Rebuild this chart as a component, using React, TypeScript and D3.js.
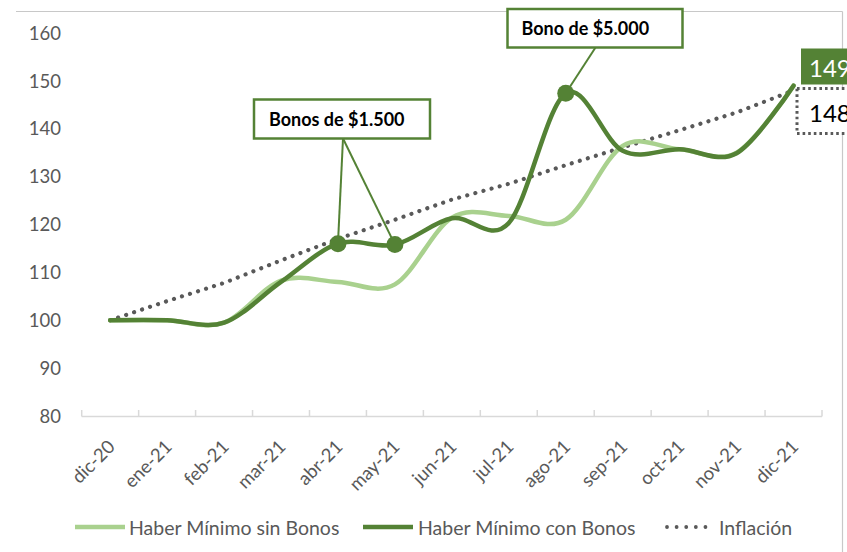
import React from "react";
import * as d3 from "d3";

const categories = ["dic-20","ene-21","feb-21","mar-21","abr-21","may-21","jun-21","jul-21","ago-21","sep-21","oct-21","nov-21","dic-21"];
const sinBonos = [100, 100, 99.5, 108.3, 108, 107.5, 121.4, 121.8, 121, 136.4, 135.7, 135, 149];
const conBonos = [100, 100, 99.5, 108, 116, 115.8, 121.3, 120.3, 147.4, 135.4, 135.7, 134.9, 149];
const inflacion = [100, 104, 107.8, 112.5, 117, 121, 125.2, 128.5, 132.4, 136.1, 139.7, 143.4, 148];
const yTicks = [80, 90, 100, 110, 120, 130, 140, 150, 160];
const seriesNames = ["Haber Mínimo sin Bonos", "Haber Mínimo con Bonos", "Inflación"];
const annotations = [
  { text: "Bonos de $1.500", idx: [4, 5] },
  { text: "Bono de $5.000", idx: [8] },
];
const endLabels = { con: "149", infl: "148" };

const W = 847, H = 552;
const DARK = "#548235", LIGHT = "#A9D18E", DOT = "#595959", TXT = "#595959";
const FONT = "Lato, 'Noto Sans', sans-serif";

export default function App() {
  const x = d3.scaleBand<string>().domain(categories).range([81.7, 822]).paddingInner(0).paddingOuter(0);
  const bw = x.bandwidth();
  const cx = (c: string) => (x(c) as number) + bw / 2;
  const y = d3.scaleLinear().domain([80, 160]).range([416, 33]);

  const line = d3.line<number>()
    .x((_, i) => cx(categories[i]))
    .y((d) => y(d))
    .curve(d3.curveCardinal.tension(0));
  const straight = d3.line<number>()
    .x((_, i) => cx(categories[i]))
    .y((d) => y(d));

  const boundaries = d3.range(categories.length + 1).map((i) => 81.7 + i * bw);

  const box1 = { x: 254, y: 99.5, w: 176, h: 39 };
  const box2 = { x: 507.5, y: 9, w: 175, h: 38.5 };

  return (
    <svg width={W} height={H} style={{ position: "absolute", left: 0, top: 0, background: "#fff" }} fontFamily={FONT}>
      {/* frame */}
      <line x1={16} x2={842.5} y1={11.5} y2={11.5} stroke="#C8C8C8" strokeWidth={1.2} />
      <line x1={842.5} x2={842.5} y1={11.5} y2={H} stroke="#C8C8C8" strokeWidth={1.2} />

      {/* y tick labels */}
      {yTicks.map((t) => (
        <text key={t} x={61} y={y(t)} dy="0.36em" textAnchor="end" fontSize={18.5} fill={TXT}>{t}</text>
      ))}

      {/* x axis */}
      <line x1={81.7} x2={822} y1={416.5} y2={416.5} stroke="#D9D9D9" strokeWidth={1.5} />
      {boundaries.map((b, i) => (
        <line key={i} x1={b} x2={b} y1={410} y2={416.5} stroke="#D9D9D9" strokeWidth={1.5} />
      ))}
      {categories.map((c) => (
        <text key={c} transform={`translate(${cx(c) + 1},${443}) rotate(-45)`} textAnchor="end" dominantBaseline="central" fontSize={18.5} fill={TXT}>{c}</text>
      ))}

      {/* series */}
      <path d={straight(inflacion) || ""} fill="none" stroke={DOT} strokeWidth={4.2} strokeLinecap="round" strokeDasharray="0.01 8.4" />
      <path d={line(sinBonos) || ""} fill="none" stroke={LIGHT} strokeWidth={4.5} strokeLinecap="round" />
      <path d={line(conBonos) || ""} fill="none" stroke={DARK} strokeWidth={4.5} strokeLinecap="round" />

      {/* leader lines */}
      {annotations[0].idx.map((i) => (
        <line key={"l1" + i} x1={box1.x + 89} y1={box1.y + box1.h} x2={cx(categories[i])} y2={y(conBonos[i])} stroke={DARK} strokeWidth={2} />
      ))}
      {annotations[1].idx.map((i) => (
        <line key={"l2" + i} x1={box2.x + 88} y1={box2.y + box2.h} x2={cx(categories[i])} y2={y(conBonos[i])} stroke={DARK} strokeWidth={2} />
      ))}

      {/* markers */}
      {[...annotations[0].idx, ...annotations[1].idx].map((i) => (
        <circle key={"m" + i} cx={cx(categories[i])} cy={y(conBonos[i])} r={8.5} fill={DARK} />
      ))}

      {/* annotation boxes */}
      <rect x={box1.x} y={box1.y} width={box1.w} height={box1.h} fill="#fff" stroke={DARK} strokeWidth={2.5} />
      <text x={box1.x + 15} y={box1.y + box1.h / 2} dominantBaseline="central" fontSize={18} fontWeight="bold" fill="#000">{annotations[0].text}</text>
      <rect x={box2.x} y={box2.y} width={box2.w} height={box2.h} fill="#fff" stroke={DARK} strokeWidth={2.5} />
      <text x={box2.x + 14} y={box2.y + box2.h / 2} dominantBaseline="central" fontSize={18} fontWeight="bold" fill="#000">{annotations[1].text}</text>

      {/* end labels */}
      <rect x={801} y={48.5} width={60} height={36} fill={DARK} />
      <text x={809} y={67} dominantBaseline="central" fontSize={24} fill="#fff">{endLabels.con}</text>
      <rect x={797} y={88.5} width={60} height={45} fill="#fff" stroke={DOT} strokeWidth={3} strokeDasharray="2.6 3" />
      <text x={809} y={112} dominantBaseline="central" fontSize={24} fill="#000">{endLabels.infl}</text>

      {/* legend */}
      <line x1={75} x2={125} y1={527} y2={527} stroke={LIGHT} strokeWidth={4.5} />
      <text x={129} y={527} dominantBaseline="central" fontSize={19.5} fill={TXT}>{seriesNames[0]}</text>
      <line x1={363} x2={413} y1={527} y2={527} stroke={DARK} strokeWidth={4.5} />
      <text x={418} y={527} dominantBaseline="central" fontSize={19.5} fill={TXT}>{seriesNames[1]}</text>
      <line x1={667} x2={715} y1={527} y2={527} stroke={DOT} strokeWidth={3.8} strokeLinecap="round" strokeDasharray="0.01 9.6" />
      <text x={719} y={527} dominantBaseline="central" fontSize={19.5} fill={TXT}>{seriesNames[2]}</text>
    </svg>
  );
}
